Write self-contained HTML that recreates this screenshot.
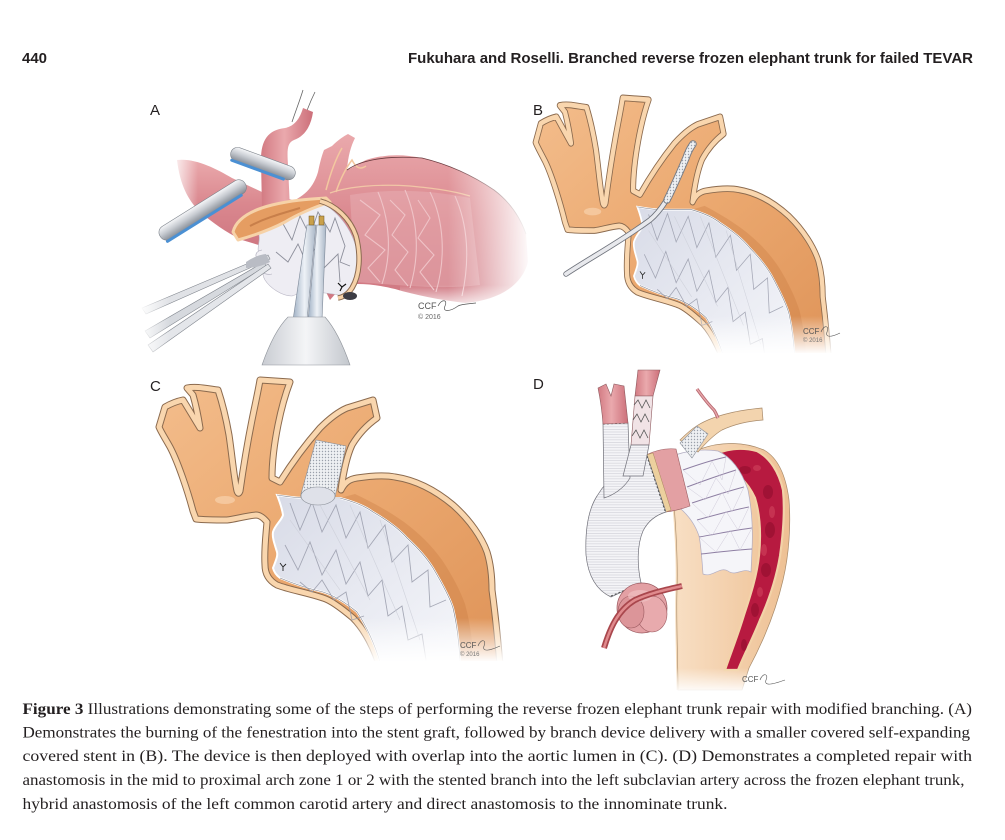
<!DOCTYPE html>
<html><head><meta charset="utf-8">
<style>
html,body{margin:0;padding:0;background:#fff;}
svg{display:block;}
</style></head><body>
<svg width="1005" height="840" viewBox="0 0 1005 840" xmlns="http://www.w3.org/2000/svg">
<defs>
 <linearGradient id="pinkA" x1="0" y1="0" x2="0" y2="1">
  <stop offset="0" stop-color="#eaa9ac"/><stop offset="0.5" stop-color="#da888f"/><stop offset="1" stop-color="#cf7781"/>
 </linearGradient>
 <linearGradient id="pinkV" x1="0" y1="0" x2="1" y2="0">
  <stop offset="0" stop-color="#d27a82"/><stop offset="0.45" stop-color="#eaa9ad"/><stop offset="1" stop-color="#cc6f79"/>
 </linearGradient>
 <linearGradient id="fadeR" x1="0" y1="0" x2="1" y2="0">
  <stop offset="0" stop-color="#fff" stop-opacity="0"/><stop offset="1" stop-color="#fff" stop-opacity="1"/>
 </linearGradient>
 <linearGradient id="fadeL" x1="1" y1="0" x2="0" y2="0">
  <stop offset="0" stop-color="#fff" stop-opacity="0"/><stop offset="1" stop-color="#fff" stop-opacity="1"/>
 </linearGradient>
 <linearGradient id="fadeB" x1="0" y1="0" x2="0" y2="1">
  <stop offset="0" stop-color="#fff" stop-opacity="0"/><stop offset="1" stop-color="#fff" stop-opacity="1"/>
 </linearGradient>
 <linearGradient id="metal" x1="0" y1="0" x2="0" y2="1">
  <stop offset="0" stop-color="#f6f7f9"/><stop offset="0.45" stop-color="#c8ccd2"/><stop offset="1" stop-color="#868c95"/>
 </linearGradient>
 <linearGradient id="rod" x1="0" y1="0" x2="1" y2="0">
  <stop offset="0" stop-color="#9fb0c4"/><stop offset="0.5" stop-color="#eef2f7"/><stop offset="1" stop-color="#a9b6c6"/>
 </linearGradient>
 <linearGradient id="handle" x1="0" y1="0" x2="1" y2="0">
  <stop offset="0" stop-color="#c9ccd2"/><stop offset="0.5" stop-color="#f4f5f7"/><stop offset="1" stop-color="#c3c7cd"/>
 </linearGradient>
 <linearGradient id="orng" x1="0" y1="0" x2="1" y2="1">
  <stop offset="0" stop-color="#f3bd8c"/><stop offset="0.5" stop-color="#eba86f"/><stop offset="1" stop-color="#de9358"/>
 </linearGradient>
 <linearGradient id="graft" x1="0" y1="0" x2="1" y2="1">
  <stop offset="0" stop-color="#d8dbe7"/><stop offset="0.5" stop-color="#e7e9f1"/><stop offset="1" stop-color="#f5f6fa"/>
 </linearGradient>
 <linearGradient id="tan" x1="0" y1="0" x2="1" y2="0">
  <stop offset="0" stop-color="#f8dfc4"/><stop offset="1" stop-color="#eec093"/>
 </linearGradient>
 <pattern id="mesh" width="3" height="3" patternUnits="userSpaceOnUse">
   <rect width="3" height="3" fill="#eef0f3"/><circle cx="1.5" cy="1.5" r="0.7" fill="#9aa0aa"/>
 </pattern>
 <pattern id="rings" width="6" height="2.6" patternUnits="userSpaceOnUse">
   <rect width="6" height="2.6" fill="#f4f4f7"/><line x1="0" y1="0.4" x2="6" y2="0.4" stroke="#c6c6d0" stroke-width="0.5"/>
 </pattern>

 <g id="vessels">
  <path d="M196,519 L193,511 C188,492 178,462 170,447 C165,438 161,432 159,427 L165,407 C172,403 178,401 183,400 C188,408 195,420 200,428 C198,415 195,402 193,395 L187,388 C197,386 208,389 218,390 C222,402 226,418 229,435 C232,455 234,478 237,491 C238,494 239,494 240,491 C243,470 248,440 252,420 C255,405 258,392 260,380 L290,382 C285,395 281,410 278,425 C274,445 272,465 272,478 L280,482 C290,466 305,445 320,428 C330,418 340,411 347,408 L373,400 L377,418 C367,425 358,435 352,445 C346,458 343,475 341,490 C345,482 350,479 357,478 C370,476 385,475 395,477 C415,480 435,490 453,505 C470,520 482,538 487,552 C491,565 492,580 492,590 C494,605 497,630 500,665 L380,668 C375,650 365,630 353,618 C340,607 330,600 323,598 C305,592 290,590 277,585 C268,580 265,573 265,565 C264,550 266,535 267,522 C262,516 258,515 256,515 C245,516 236,519 227,520 C215,520 205,520 196,519 Z" fill="url(#orng)" stroke="#8b6a4e" stroke-width="7" stroke-linejoin="round"/>
  <path d="M196,519 L193,511 C188,492 178,462 170,447 C165,438 161,432 159,427 L165,407 C172,403 178,401 183,400 C188,408 195,420 200,428 C198,415 195,402 193,395 L187,388 C197,386 208,389 218,390 C222,402 226,418 229,435 C232,455 234,478 237,491 C238,494 239,494 240,491 C243,470 248,440 252,420 C255,405 258,392 260,380 L290,382 C285,395 281,410 278,425 C274,445 272,465 272,478 L280,482 C290,466 305,445 320,428 C330,418 340,411 347,408 L373,400 L377,418 C367,425 358,435 352,445 C346,458 343,475 341,490 C345,482 350,479 357,478 C370,476 385,475 395,477 C415,480 435,490 453,505 C470,520 482,538 487,552 C491,565 492,580 492,590 C494,605 497,630 500,665 L380,668 C375,650 365,630 353,618 C340,607 330,600 323,598 C305,592 290,590 277,585 C268,580 265,573 265,565 C264,550 266,535 267,522 C262,516 258,515 256,515 C245,516 236,519 227,520 C215,520 205,520 196,519 Z" fill="none" stroke="#f9d6ae" stroke-width="5" stroke-linejoin="round"/>
  <ellipse cx="225" cy="500" rx="10" ry="4" fill="#f8d2ad" opacity="0.7"/>
  <path d="M340,498 C355,502 365,506 373,512 C390,522 400,530 407,538 C420,550 428,560 433,568 C443,585 450,598 453,608 C457,625 459,640 460,660 L474,660 C472,640 470,622 465,604 C460,590 452,575 442,560 C432,546 420,534 404,522 C390,512 372,502 355,494 Z" fill="#c97a42" opacity="0.35"/>
  <path d="M277,495 C290,497 300,498 306,498 C320,498 330,498 340,498 C355,502 365,506 373,512 C390,522 400,530 407,538 C420,550 428,560 433,568 C443,585 450,598 453,608 C457,625 459,640 460,662 L380,662 C375,645 366,625 357,612 C345,602 335,596 323,592 C305,588 292,583 280,578 C276,575 274,572 273,568 C276,560 278,556 277,552 C275,545 272,538 273,532 C275,525 282,520 283,515 C282,508 279,500 277,495 Z" fill="url(#graft)" stroke="#ffffff" stroke-width="2"/>
  <path d="M277,495 C290,497 300,498 306,498 C320,498 330,498 340,498 C355,502 365,506 373,512 C390,522 400,530 407,538 C420,550 428,560 433,568 C443,585 450,598 453,608 C457,625 459,640 460,662" fill="none" stroke="#7d7f8a" stroke-width="0.6"/>
  <path d="M380,662 C375,645 366,625 357,612 C345,602 335,596 323,592 C305,588 292,583 280,578" fill="none" stroke="#7d7f8a" stroke-width="0.6"/>
  <g fill="none" stroke="#9a9dac" stroke-width="0.9" opacity="0.85">
   <polyline points="290,503 300,530 312,502 322,532 336,505 346,538 360,512 368,548 385,525 392,562 408,545 412,582 428,570 430,607 446,600"/>
   <polyline points="285,545 298,570 310,542 322,575 336,550 346,584 360,562 368,596 382,580 388,616 402,606 408,640 422,634 426,660"/>
   <polyline points="300,582 312,592 322,580 334,600 346,592 352,620 364,616"/>
  </g>
  <g fill="none" stroke="#c8cad4" stroke-width="0.6" opacity="0.8">
   <path d="M290,520 L340,590 M320,505 L370,600 M350,505 L400,620 M380,520 L420,640"/>
  </g>
  <path d="M280,563 l3,4 l3,-3 M283,567 l0,4" stroke="#222" stroke-width="0.9" fill="none"/>
 </g>
</defs>

<!-- HEADER -->
<text x="22" y="63" font-family="'Liberation Sans', Arial, sans-serif" font-weight="bold" font-size="15" textLength="25" lengthAdjust="spacingAndGlyphs" fill="#231f20">440</text>
<text x="408" y="63" font-family="'Liberation Sans', Arial, sans-serif" font-weight="bold" font-size="15" textLength="565" lengthAdjust="spacingAndGlyphs" fill="#231f20">Fukuhara and Roselli. Branched reverse frozen elephant trunk for failed TEVAR</text>

<!-- PANEL A -->
<g id="panelA">
 <path d="M292,122 C296,110 300,100 303,90 M302,126 C306,112 310,102 315,92" stroke="#666" stroke-width="0.8" fill="none"/>
 <path d="M177,160 C195,158 215,168 232,178 L262,192 L300,202 L300,242 L262,246 L242,240 C225,232 212,222 200,212 C188,200 180,185 177,160Z" fill="url(#pinkA)"/>
 <rect x="170" y="150" width="28" height="90" fill="url(#fadeL)"/>
 <path d="M262,210 L261,160 C261,140 268,130 285,128 C295,126 300,118 303,108 L313,112 C311,126 305,136 294,140 C287,143 287,150 288,165 L290,210Z" fill="url(#pinkV)"/>
 <path d="M285,205 C300,198 312,192 318,172 C320,162 322,155 324,150 L332,146 C338,140 344,136 348,134 L355,138 C351,146 348,156 347,170 C352,168 358,164 366,160 C385,154 403,154 422,158 C447,164 472,175 494,190 C510,202 520,217 526,234 L528,262 C522,285 500,300 465,303 C440,300 415,295 395,289 C375,284 357,283 343,285 L330,300 C315,270 300,240 285,205 Z" fill="url(#pinkA)"/>
 <path d="M326,190 C330,175 335,160 342,148 M336,192 C340,180 346,168 352,160 C356,168 360,170 366,166" stroke="#f3c8a0" stroke-width="1.5" fill="none"/>
 <path d="M347,170 C358,162 380,155 422,158 C447,164 472,175 494,190 C510,202 520,217 526,234" stroke="#6b3b3f" stroke-width="0.8" fill="none"/>
 <path d="M330,193 C350,186 380,184 410,186 C430,188 450,190 470,196" stroke="#f1c6a6" stroke-width="1.2" fill="none"/>
 <path d="M350,195 C380,190 420,188 470,198 L480,285 C440,290 400,285 355,282 Z" fill="#e8b4b9" opacity="0.45"/>
 <g fill="none" stroke="#efc3c7" stroke-width="1.1">
  <path d="M378,192 C390,220 392,255 382,284"/>
  <path d="M405,190 C418,220 420,255 410,288"/>
  <path d="M430,192 C444,220 446,258 436,292"/>
  <path d="M455,196 C468,225 470,260 462,296"/>
  <polyline points="360,200 380,215 365,235 385,250 368,268 380,282" />
  <polyline points="390,200 405,215 392,235 408,252 395,270 408,286"/>
  <polyline points="418,200 430,218 418,238 434,255 420,272 434,290"/>
 </g>
 <rect x="448" y="140" width="84" height="175" fill="url(#fadeR)"/>
 <rect x="400" y="285" width="132" height="25" fill="url(#fadeB)"/>
 <g transform="translate(231,152) rotate(20)">
  <rect x="0" y="-7" width="68" height="14" rx="7" fill="url(#metal)" stroke="#7d838b" stroke-width="0.6"/>
  <rect x="2" y="6" width="58" height="3" rx="1.5" fill="#4b90d3"/>
 </g>
 <g transform="translate(160,236) rotate(-32)">
  <rect x="0" y="-7" width="100" height="15" rx="7" fill="url(#metal)" stroke="#7d838b" stroke-width="0.6"/>
  <rect x="2" y="7" width="90" height="3" rx="1.5" fill="#4b90d3"/>
 </g>
 <path d="M262,222 C285,208 305,202 320,202 C340,212 354,232 358,256 C358,275 352,290 344,296 C325,292 305,290 292,296 C282,296 270,288 265,280 C260,272 266,264 260,256 C255,248 262,240 258,232 Z" fill="#eeedf3" stroke="#b8b6c4" stroke-width="0.6"/>
 <g fill="none" stroke="#8d8f9b" stroke-width="0.9">
  <polyline points="282,222 292,240 300,216 310,236 318,212 330,232 335,218 345,246 340,262 350,266"/>
  <polyline points="276,252 288,262 298,244 306,262 318,244 324,268 338,254 340,282"/>
 </g>
 <path d="M262,250 C252,252 256,260 262,262 C256,268 262,276 272,274" fill="#f1f0f5" stroke="#a9a7b6" stroke-width="0.6"/>
 <path d="M233,232 C236,220 248,211 272,205 C292,200 310,199 326,198 L330,202 C312,208 298,214 285,222 C270,230 252,236 238,240 Z" fill="#e59d62" stroke="#f6d2a8" stroke-width="3" stroke-linejoin="round"/>
 <path d="M250,226 C265,218 280,214 300,208" stroke="#b46a3a" stroke-width="2" fill="none" opacity="0.6"/>
 <path d="M320,201 C335,205 350,218 356,236 C361,255 360,275 352,288 C348,294 344,297 338,298" fill="none" stroke="#8a6a50" stroke-width="5.5"/>
 <path d="M320,201 C335,205 350,218 356,236 C361,255 360,275 352,288 C348,294 344,297 338,298" fill="none" stroke="#f6d2a8" stroke-width="3.5"/>
 <ellipse cx="350" cy="296" rx="7" ry="4" fill="#3c3c44"/>
 <path d="M338,283 l4,4 l4,-3 M342,287 l-2,4" stroke="#111" stroke-width="1.2" fill="none"/>
 <path d="M142,308 L268,255 L270,259 L146,314 Z" fill="#e0e2e6" stroke="#7f848c" stroke-width="0.6"/>
 <path d="M145,331 L264,262 L266,266 L150,338 Z" fill="#d6d9de" stroke="#7f848c" stroke-width="0.6"/>
 <path d="M148,345 L268,264 L271,268 L153,352 Z" fill="#e4e6ea" stroke="#7f848c" stroke-width="0.6"/>
 <path d="M246,262 C252,258 258,255 266,254 L270,262 C262,266 254,268 246,268 Z" fill="#b9bcc4"/>
 <rect x="140" y="290" width="30" height="70" fill="url(#fadeL)"/>
 <path d="M307,225 L316,225 L307,320 L293,320 Z" fill="url(#rod)" stroke="#7f8a99" stroke-width="0.6"/>
 <path d="M317,225 L326,225 L322,320 L308,320 Z" fill="url(#rod)" stroke="#7f8a99" stroke-width="0.6"/>
 <rect x="309" y="216" width="5" height="9" fill="#c9a04a" stroke="#6d5522" stroke-width="0.5"/>
 <rect x="319" y="216" width="5" height="9" fill="#c9a04a" stroke="#6d5522" stroke-width="0.5"/>
 <path d="M288,317 L325,317 C333,326 342,342 350,365 L262,365 C270,342 279,326 288,317Z" fill="url(#handle)" stroke="#8f949b" stroke-width="0.6"/>
 <text x="418" y="309" font-family="'Liberation Sans', Arial, sans-serif" font-size="9" fill="#555">CCF</text>
 <text x="418" y="319" font-family="'Liberation Sans', Arial, sans-serif" font-size="7" fill="#666">© 2016</text>
 <path d="M438,306 C442,298 448,300 445,306 C442,312 450,312 458,306 C462,304 468,304 476,303" stroke="#555" stroke-width="0.7" fill="none"/>
</g>

<!-- PANEL B -->
<use href="#vessels" transform="matrix(0.862,0,0,0.948,398.6,-262.4)"/>
<path d="M566,274 C590,258 620,242 650,220 C662,210 670,195 678,178 C683,166 687,156 692,145" fill="none" stroke="#6f737c" stroke-width="5.5" stroke-linecap="round"/>
<path d="M566,274 C590,258 620,242 650,220 C662,210 670,195 678,178 C683,166 687,156 692,145" fill="none" stroke="#e8e9ed" stroke-width="3.8" stroke-linecap="round"/>
<path d="M667,200 C673,188 680,172 686,158 C688,152 690,148 693,144" fill="none" stroke="#7a7e86" stroke-width="7.5" stroke-linecap="round"/>
<path d="M667,200 C673,188 680,172 686,158 C688,152 690,148 693,144" fill="none" stroke="url(#mesh)" stroke-width="5.5" stroke-linecap="round"/>
<rect x="600" y="316" width="245" height="38" fill="url(#fadeB)"/>
<rect x="600" y="353" width="245" height="23" fill="#fff"/>
<text x="803" y="334" font-family="'Liberation Sans', Arial, sans-serif" font-size="8" fill="#555">CCF</text>
<text x="803" y="342" font-family="'Liberation Sans', Arial, sans-serif" font-size="6" fill="#777">© 2016</text>
<path d="M821,332 C824,324 830,326 827,332 C825,338 832,337 840,333" stroke="#555" stroke-width="0.6" fill="none"/>

<!-- PANEL C -->
<use href="#vessels"/>
<path d="M316,440 L301,494 A17,9 0 0 0 335,497 L346,446 Z" fill="url(#mesh)" stroke="#8a8f98" stroke-width="0.6"/>
<ellipse cx="318" cy="496" rx="17" ry="9" fill="#dfe1e9" stroke="#8a8f98" stroke-width="0.6"/>
<rect x="250" y="618" width="265" height="44" fill="url(#fadeB)"/>
<rect x="250" y="661" width="265" height="16" fill="#fff"/>
<text x="460" y="648" font-family="'Liberation Sans', Arial, sans-serif" font-size="8" fill="#555">CCF</text>
<text x="460" y="656" font-family="'Liberation Sans', Arial, sans-serif" font-size="6" fill="#777">© 2016</text>
<path d="M478,646 C481,638 487,640 484,646 C482,652 489,651 500,646" stroke="#555" stroke-width="0.6" fill="none"/>

<!-- PANEL D -->
<g id="panelD">
 <path d="M700,449 C722,441 745,442 764,450 C778,458 786,476 789,500 C791,525 789,555 783,580 C776,610 764,640 749,668 L742,690 L678,690 C678,660 676,620 677,590 C678,560 676,530 674,505 Z" fill="url(#tan)" stroke="#a88a6a" stroke-width="0.7"/>
 <path d="M674,505 C676,530 678,560 677,590 C676,620 678,660 678,690" fill="none" stroke="#f6dcbc" stroke-width="3"/>
 <path d="M674,505 C676,530 678,560 677,590 C676,620 678,660 678,690" fill="none" stroke="#a88a6a" stroke-width="0.6"/>
 <path d="M710,457 C725,448 742,447 757,451 C770,458 779,472 783,490 C785,510 783,535 780,556 C776,580 769,600 760,620 C752,640 744,655 738,670 L725,670 C730,655 737,638 744,615 C751,594 757,575 759,555 C761,535 760,515 755,498 C748,482 735,470 718,464 Z" fill="#b71a40" stroke="#f2d3a8" stroke-width="2.2"/>
 <g fill="#8e0d2c" opacity="0.55">
  <ellipse cx="745" cy="470" rx="6" ry="4"/><ellipse cx="768" cy="492" rx="5" ry="7"/>
  <ellipse cx="770" cy="530" rx="5" ry="8"/><ellipse cx="766" cy="570" rx="5" ry="7"/>
  <ellipse cx="755" cy="610" rx="4" ry="7"/><ellipse cx="744" cy="645" rx="3" ry="6"/>
 </g>
 <g fill="#d4475f" opacity="0.55">
  <ellipse cx="757" cy="468" rx="4" ry="3"/><ellipse cx="772" cy="512" rx="3" ry="6"/>
  <ellipse cx="764" cy="550" rx="3" ry="6"/><ellipse cx="760" cy="592" rx="3" ry="5"/>
 </g>
 <path d="M675,455 C690,450 705,449 718,451 C733,458 742,472 748,490 C752,510 753,530 752,550 L751,572 C743,567 736,577 728,571 C720,566 712,578 703,574 C702,560 701,545 699,536 C695,524 688,514 676,505 Z" fill="#f5f5f9" stroke="#b2adc2" stroke-width="0.7"/>
 <g fill="none" stroke="#8e7fa3" stroke-width="1">
  <path d="M683,470 C697,465 712,460 726,457"/>
  <path d="M687,487 C703,481 720,475 736,470"/>
  <path d="M692,503 C710,497 728,491 744,487"/>
  <path d="M697,520 C715,515 733,510 749,507"/>
  <path d="M699,537 C717,534 735,530 752,528"/>
  <path d="M701,554 C719,552 736,550 752,549"/>
 </g>
 <g fill="none" stroke="#cfcad9" stroke-width="0.5">
  <path d="M683,470 L700,485 L712,461 L722,480 L726,457 M687,487 L705,500 L716,478 L728,494 L736,470 M692,503 L708,518 L722,492 L732,512 L744,487 M697,520 L712,536 L726,511 L738,530 L749,507 M699,537 L716,552 L730,530 L740,550 L752,528"/>
 </g>
 <path d="M646,455 C656,450 666,448 676,449 L690,506 C682,509 674,511 666,512 Z" fill="#e3a0a3" stroke="#9c6065" stroke-width="0.6"/>
 <path d="M646,455 L653,453 L671,510 L666,512 Z" fill="#ecd09e" stroke="#a8875a" stroke-width="0.5"/>
 <path d="M680,440 C690,430 700,420 730,413 C742,410 752,409 762,408 L763,420 C748,421 735,424 722,430 C712,436 704,445 698,452 Z" fill="#f3d4ae" stroke="#a88a6a" stroke-width="0.7"/>
 <path d="M680,443 L697,426 L708,434 L692,458 Z" fill="url(#mesh)" stroke="#8a8f98" stroke-width="0.6"/>
 <path d="M697,389 C702,396 708,404 714,410 C716,413 717,416 718,418" fill="none" stroke="#b86870" stroke-width="3.2"/>
 <path d="M697,389 C702,396 708,404 714,410 C716,413 717,416 718,418" fill="none" stroke="#e7a7ab" stroke-width="1.4"/>
 <path d="M620,470 L647,455 L666,512 C656,515 648,521 643,531 C637,545 637,565 641,583 L611,597 C596,590 588,575 586,555 C585,530 588,510 597,496 C603,486 610,478 620,470 Z" fill="url(#rings)" stroke="#6f6f78" stroke-width="0.7"/>
 <path d="M647,456 L665,511" stroke="#555" stroke-width="1" stroke-dasharray="2,2"/>
 <path d="M611,596 L642,583" stroke="#555" stroke-width="1" stroke-dasharray="2,2"/>
 <path d="M603,423 L628,423 L630,478 C624,488 614,495 604,498 Z" fill="url(#rings)" stroke="#6f6f78" stroke-width="0.7"/>
 <path d="M603,424 L628,423" stroke="#555" stroke-width="1" stroke-dasharray="2,2"/>
 <path d="M598,388 L606,384 L611,396 L614,384 L624,386 L628,423 L603,424 C602,410 600,398 598,388 Z" fill="url(#pinkV)" stroke="#8e5a5f" stroke-width="0.6"/>
 <path d="M638,370 L660,370 L653,396 L635,396 Z" fill="url(#pinkV)" stroke="#8e5a5f" stroke-width="0.6"/>
 <path d="M635,396 L653,396 L649,445 L631,445 Z" fill="#f1e3e6" stroke="#8e5a5f" stroke-width="0.6"/>
 <polyline points="634,405 638,400 642,408 646,400 650,408" fill="none" stroke="#555" stroke-width="0.8"/>
 <polyline points="633,420 637,414 641,422 645,414 649,422" fill="none" stroke="#555" stroke-width="0.8"/>
 <polyline points="632,436 636,430 640,438 644,430 648,438" fill="none" stroke="#555" stroke-width="0.8"/>
 <path d="M631,445 L649,445 L643,476 L623,476 Z" fill="url(#rings)" stroke="#6f6f78" stroke-width="0.7"/>
 <ellipse cx="642" cy="608" rx="25" ry="25" fill="#e3a0a4" stroke="#9b5a60" stroke-width="0.7"/>
 <ellipse cx="652" cy="614" rx="15" ry="18" fill="#e8aaad" stroke="#9b5a60" stroke-width="0.6"/>
 <ellipse cx="631" cy="612" rx="13" ry="16" fill="#dc9599" stroke="#9b5a60" stroke-width="0.6"/>
 <ellipse cx="640" cy="596" rx="12" ry="6" fill="#f0c0c2" opacity="0.7"/>
 <path d="M604,648 C610,628 618,610 635,600 C650,593 665,590 682,586" fill="none" stroke="#a9474d" stroke-width="6"/>
 <path d="M604,648 C610,628 618,610 635,600 C650,593 665,590 682,586" fill="none" stroke="#e08a8d" stroke-width="2.5"/>
 <rect x="670" y="668" width="130" height="25" fill="url(#fadeB)"/>
 <text x="742" y="682" font-family="'Liberation Sans', Arial, sans-serif" font-size="8" fill="#555">CCF</text>
 <path d="M760,680 C763,672 769,674 766,680 C764,686 771,685 785,680" stroke="#555" stroke-width="0.6" fill="none"/>
</g>

<!-- labels -->
<g font-family="'Liberation Sans', Arial, sans-serif" font-size="15" fill="#231f20">
 <text x="150" y="115">A</text>
 <text x="533" y="115">B</text>
 <text x="150" y="391">C</text>
 <text x="533" y="389">D</text>
</g>

<!-- CAPTION -->
<g font-family="'Liberation Serif', 'Times New Roman', serif" font-size="16" fill="#231f20">
 <text x="22.5" y="714" textLength="949.5" lengthAdjust="spacingAndGlyphs"><tspan font-weight="bold">Figure 3</tspan> Illustrations demonstrating some of the steps of performing the reverse frozen elephant trunk repair with modified branching. (A)</text>
 <text x="22.5" y="737.5" textLength="947.5" lengthAdjust="spacingAndGlyphs">Demonstrates the burning of the fenestration into the stent graft, followed by branch device delivery with a smaller covered self-expanding</text>
 <text x="22.5" y="761" textLength="949.5" lengthAdjust="spacingAndGlyphs">covered stent in (B). The device is then deployed with overlap into the aortic lumen in (C). (D) Demonstrates a completed repair with</text>
 <text x="22.5" y="785" textLength="942" lengthAdjust="spacingAndGlyphs">anastomosis in the mid to proximal arch zone 1 or 2 with the stented branch into the left subclavian artery across the frozen elephant trunk,</text>
 <text x="22.5" y="809" textLength="705" lengthAdjust="spacingAndGlyphs">hybrid anastomosis of the left common carotid artery and direct anastomosis to the innominate trunk.</text>
</g>
</svg>
</body></html>
